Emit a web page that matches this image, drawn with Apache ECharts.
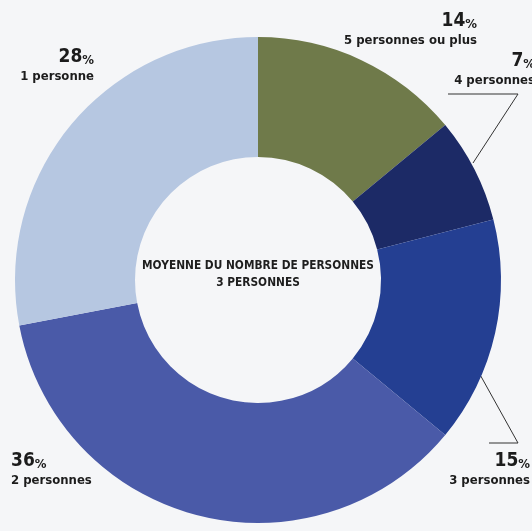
<!DOCTYPE html>
<html>
<head>
<meta charset="utf-8">
<script src="https://cdn.jsdelivr.net/npm/echarts@6/dist/echarts.min.js"></script>
<style>
  html, body { margin: 0; padding: 0; background: #f5f6f8; }
  #chart { width: 532px; height: 531px; }
</style>
</head>
<body>
<div id="chart"></div>
<script>
// Household size distribution (share of households, %)
const categories = ['5 personnes ou plus', '4 personnes', '3 personnes', '2 personnes', '1 personne'];
const shares = [14, 7, 15, 36, 28];
const sliceColors = ['#6f7a4a', '#1c2a66', '#243f92', '#4a5aa8', '#b6c7e1'];
const centerLines = ['MOYENNE DU NOMBRE DE PERSONNES', '3 PERSONNES'];

const FONT = '"DejaVu Sans Condensed", "DejaVu Sans", sans-serif';

// Label anchor for each slice: x, top y, alignment, optional leader line
const labelSpots = [
  { x: 477, y: 11, align: 'right' },
  { x: 535, y: 51, align: 'right', line: [[473, 163], [518, 94], [448, 94]] },
  { x: 530, y: 451, align: 'right', line: [[473, 362], [518, 443], [489, 443]] },
  { x: 11, y: 451, align: 'left' },
  { x: 94, y: 47, align: 'right' }
];

const chart = echarts.init(document.getElementById('chart'), null, { renderer: 'canvas' });

chart.setOption({
  backgroundColor: '#f5f6f8',
  animation: false,
  graphic: [{
    type: 'text',
    x: 258,
    y: 257,
    style: {
      text: centerLines.join('\n'),
      align: 'center',
      verticalAlign: 'top',
      font: 'bold 11.8px ' + FONT,
      lineHeight: 17,
      fill: '#1e1e1e'
    },
    z: 10
  }],
  series: [{
    type: 'pie',
    center: [258, 280],
    radius: [123, 243],
    startAngle: 90,
    clockwise: true,
    silent: true,
    data: categories.map((name, i) => ({
      name: name,
      value: shares[i],
      itemStyle: { color: sliceColors[i] },
      labelLine: { show: !!labelSpots[i].line }
    })),
    label: {
      show: true,
      position: 'outside',
      overflow: 'none',
      formatter: p => '{v|' + p.value + '}{s|%}\n{n|' + p.name + '}',
      rich: {
        v: { fontFamily: FONT, fontWeight: 'bold', fontSize: 19, lineHeight: 20, color: '#1c1c1c' },
        s: { fontFamily: FONT, fontWeight: 'bold', fontSize: 13, lineHeight: 20, color: '#1c1c1c', verticalAlign: 'bottom' },
        n: { fontFamily: FONT, fontWeight: 'bold', fontSize: 13, lineHeight: 19, color: '#1c1c1c' }
      }
    },
    labelLine: {
      lineStyle: { color: '#333333', width: 1 }
    },
    labelLayout: params => {
      const spot = labelSpots[params.dataIndex];
      const out = {
        x: spot.x,
        y: spot.y,
        align: spot.align,
        verticalAlign: 'top',
        moveOverlap: false,
        hideOverlap: false
      };
      if (spot.line) out.labelLinePoints = spot.line;
      return out;
    }
  }]
});
</script>
</body>
</html>
